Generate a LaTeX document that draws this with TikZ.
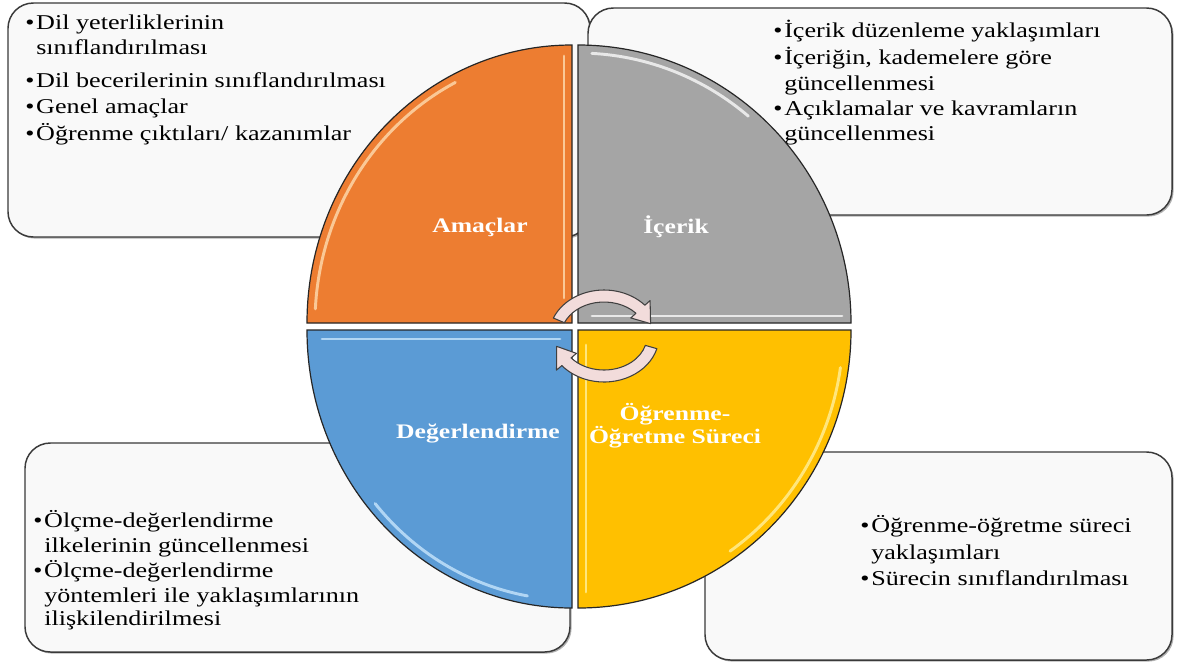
\documentclass[tikz,border=0pt]{standalone}
\usepackage{fontspec}
\setmainfont{Liberation Serif}[FakeStretch=1.24]
\usetikzlibrary{calc,shadows}
\definecolor{qorange}{HTML}{ED7D31}
\definecolor{qgray}{HTML}{A5A5A5}
\definecolor{qyellow}{HTML}{FFC000}
\definecolor{qblue}{HTML}{5B9BD5}
\definecolor{hlorange}{HTML}{FFE2B8}
\definecolor{hlyellow}{HTML}{FFF3A6}
\definecolor{hlblue}{HTML}{CFEAFF}
\definecolor{boxfill}{HTML}{F9F9F9}
\definecolor{boxline}{HTML}{3A3A3A}
\definecolor{arrfill}{HTML}{F2DCDB}
\newcommand{\bulitem}{\makebox[8.25pt][l]{•}}
\begin{document}
\begin{tikzpicture}[x=0.75pt,y=-0.75pt,
  box/.style={draw=boxline, line width=1.1pt, fill=boxfill, rounded corners=19pt,
    drop shadow={shadow xshift=1.2pt, shadow yshift=-1.2pt, opacity=0.3, fill=black}},
  txt/.style={anchor=base west, inner sep=0pt, font=\fontsize{15.8}{18}\selectfont, text=black},
  lbl/.style={font=\fontsize{15.5}{17}\selectfont\bfseries, text=white, align=center, inner sep=0pt},
  quad/.style={draw=black!85, line width=0.9pt},
  hl/.style={line width=2.2pt, line cap=round, opacity=0.75},
  arr/.style={fill=arrfill, draw=black!75, line width=0.8pt, line join=round}]
\useasboundingbox (0,0) rectangle (1180,662);
\fill[white] (0,0) rectangle (1180,662);
% text boxes
\path[box] (8,3) rectangle (590,237);
\path[box] (588,8) rectangle (1172,215);
\path[box] (25,443) rectangle (570,652);
\path[box] (705,452) rectangle (1172,660);
% box texts
\node[txt] (a1) at (25,29) {\bulitem Dil yeterliklerinin};
\node[txt] (a2) at (36,54) {sınıflandırılması};
\node[txt] (a3) at (25,87) {\bulitem Dil becerilerinin sınıflandırılması};
\node[txt] (a4) at (25,113) {\bulitem Genel amaçlar};
\node[txt] (a5) at (25,140) {\bulitem Öğrenme çıktıları/ kazanımlar};
\node[txt] (b1) at (773,37) {\bulitem İçerik düzenleme yaklaşımları};
\node[txt] (b2) at (773,64) {\bulitem İçeriğin, kademelere göre};
\node[txt] (b3) at (784,90) {güncellenmesi};
\node[txt] (b4) at (773,115) {\bulitem Açıklamalar ve kavramların};
\node[txt] (b5) at (784,140) {güncellenmesi};
\node[txt] (c1) at (33,527) {\bulitem Ölçme-değerlendirme};
\node[txt] (c2) at (44,552) {ilkelerinin güncellenmesi};
\node[txt] (c3) at (33,577) {\bulitem Ölçme-değerlendirme};
\node[txt] (c4) at (44,602) {yöntemleri ile yaklaşımlarının};
\node[txt] (c5) at (44,625) {ilişkilendirilmesi};
\node[txt] (d1) at (860,532) {\bulitem Öğrenme-öğretme süreci};
\node[txt] (d2) at (871,559) {yaklaşımları};
\node[txt] (d3) at (860,585) {\bulitem Sürecin sınıflandırılması};
% pie quadrants
\path[quad, fill=qorange] (572,323) -- ++(-265,0) arc[start angle=180, end angle=270, x radius=265, y radius=278] -- cycle;
\path[quad, fill=qgray] (578,323) -- ++(0,-278) arc[start angle=270, end angle=360, x radius=273, y radius=278] -- cycle;
\path[quad, fill=qyellow] (578,330) -- ++(273,0) arc[start angle=0, end angle=90, x radius=273, y radius=278] -- cycle;
\path[quad, fill=qblue] (572,330) -- ++(0,278) arc[start angle=90, end angle=180, x radius=265, y radius=278] -- cycle;
% highlights
\draw[hl, hlorange] ($(572,323)+(183:257 and 270)$) arc[start angle=183, end angle=243, x radius=257, y radius=270];
\draw[hl, hlorange] (564,56) -- (564,298);
\draw[hl, white] ($(578,323)+(273:265 and 270)$) arc[start angle=273, end angle=310, x radius=265, y radius=270];
\draw[hl, white] (592,316) -- (842,316);
\draw[hl, hlyellow] (586,345) -- (586,592);
\draw[hl, hlyellow] ($(578,330)+(8:265 and 270)$) arc[start angle=8, end angle=55, x radius=265, y radius=270];
\draw[hl, hlblue] (322,339) -- (560,339);
\draw[hl, hlblue] ($(572,330)+(100:257 and 270)$) arc[start angle=100, end angle=140, x radius=257, y radius=270];
% cycle arrows
\coordinate (c) at (604,336);
\path[arr] ($(c)+(203:55 and 46)$) arc[start angle=203, end angle=318, x radius=55, y radius=46]
  -- ($(c)+(318:62 and 53)$) -- ($(c)+(342:49 and 40)$) -- ($(c)+(318:36 and 27)$)
  -- ($(c)+(318:43 and 34)$) arc[start angle=318, end angle=203, x radius=43, y radius=34] -- cycle;
\path[arr] ($(c)+(16:55 and 46)$) arc[start angle=16, end angle=140, x radius=55, y radius=46]
  -- ($(c)+(140:62 and 53)$) -- ($(c)+(165:49 and 40)$) -- ($(c)+(140:36 and 27)$)
  -- ($(c)+(140:43 and 34)$) arc[start angle=140, end angle=16, x radius=43, y radius=34] -- cycle;
% labels
\node[lbl] (amac) at (480,227) {Amaçlar};
\node[lbl] (icerik) at (676,227) {İçerik};
\node[lbl] (deger) at (478,433) {Değerlendirme};
\node[lbl] (ogren) at (675,426) {Öğrenme-\\Öğretme Süreci};
\end{tikzpicture}
\end{document}
